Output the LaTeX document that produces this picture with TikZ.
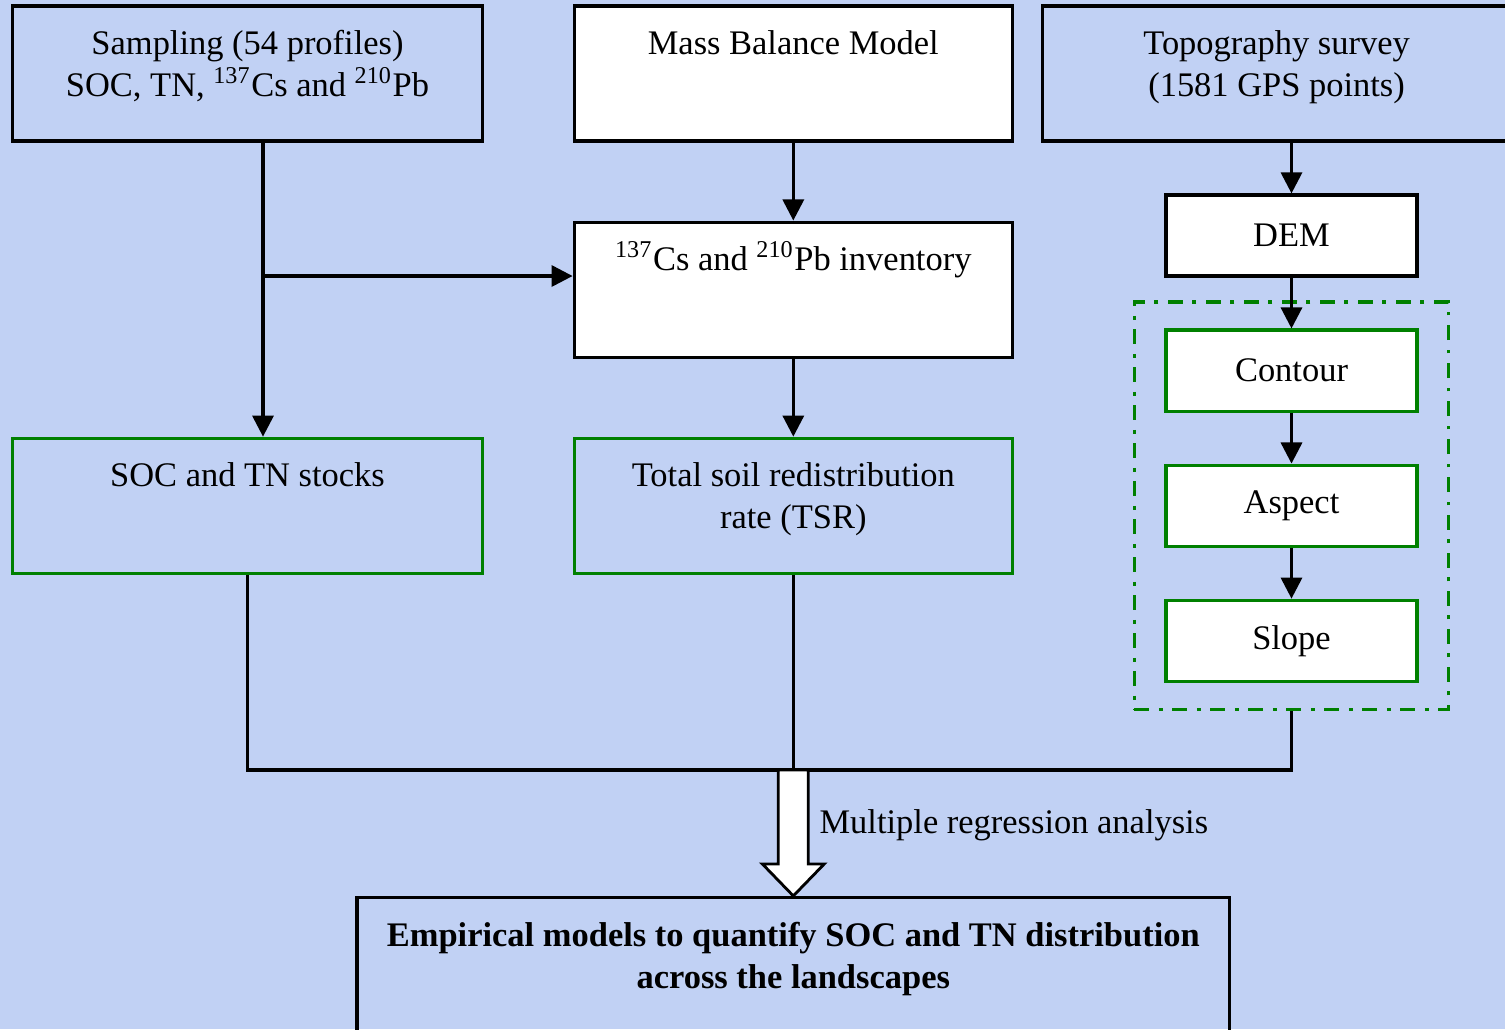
\documentclass[tikz,border=0pt]{standalone}
\usepackage{fontspec}
\setmainfont{Liberation Serif}
\usepackage{xcolor}
\usetikzlibrary{arrows.meta,positioning,fit,calc}
\definecolor{bgblue}{RGB}{193,209,244}
\definecolor{boxgreen}{RGB}{0,128,0}

\tikzset{
  box/.style={draw, minimum width=4.38cm, inner sep=0pt, align=center},
  onerow/.style={text height=0.485cm, text depth=0.865cm},
  tworow/.style={text height=0.905cm, text depth=0.445cm},
  small/.style={draw, fill=white, minimum width=2.51cm, minimum height=0.81cm, inner sep=0pt},
  group/.style={draw=boxgreen, dash pattern=on 4.3pt off 2.7pt on 1.1pt off 2.7pt, inner xsep=0.3cm, inner ysep=0.265cm}
}

\begin{document}
\fontsize{9.8}{11.9}\selectfont
\begin{tikzpicture}[->, >={Triangle[length=6pt,width=6pt]}, x=0.01cm, y=-0.01cm, line width=0.9pt, node distance=2.16cm]
\useasboundingbox (0,0) rectangle (1505,1029);
\fill[-, bgblue] (0,0) rectangle (1505,1029);

% top row
\node [box, tworow, minimum width=4.69cm] (sampling) at (247.5,73.5) {Sampling (54 profiles)\\SOC, TN, \textsuperscript{137}Cs and \textsuperscript{210}Pb};
\node [box, onerow, fill=white] (mass) [right of=sampling, node distance=5.455cm] {Mass Balance Model};
\node [box, tworow, minimum width=4.68cm] (topo) [right of=mass, node distance=4.83cm] {Topography survey\\(1581 GPS points)};

% middle column
\node [box, onerow, fill=white] (inventory) [below of=mass] {\textsuperscript{137}Cs and \textsuperscript{210}Pb inventory};
\node [box, tworow, draw=boxgreen] (tsr) [below of=inventory] {Total soil redistribution\\rate (TSR)};
\node [box, onerow, draw=boxgreen, minimum width=4.69cm] (stocks) [left of=tsr, node distance=5.455cm] {SOC and TN stocks};
\node [box, tworow, font=\bfseries, minimum width=8.72cm] (final) [below of=tsr, node distance=4.59cm] {Empirical models to quantify SOC and TN distribution\\across the landscapes};

% terrain column
\node [small] (dem) at (1291.5,235.5) {DEM};
\node [small, draw=boxgreen] (contour) [below of=dem, node distance=1.35cm] {Contour};
\node [small, draw=boxgreen] (aspect) [below of=contour, node distance=1.35cm] {Aspect};
\node [small, draw=boxgreen] (slope) [below of=aspect, node distance=1.35cm] {Slope};
\node [group, fit=(contour)(slope)] (grp) {};

\coordinate (split) at (263,276);
\coordinate (join) at (tsr.south |- 0,770);

\draw [-] (sampling.south -| split) -- (split);
\draw (split) -- (stocks.north -| split);
\draw (split) -- (split -| inventory.west);
\draw (mass) -- (inventory);
\draw (inventory) -- (tsr);
\draw (topo.south -| dem.north) -- (dem);
\draw (dem) -- (contour);
\draw (contour) -- (aspect);
\draw (aspect) -- (slope);

\draw [-] (stocks.south) |- (join) -| (grp.south);
\draw [-] (tsr.south) -- (join);

% hollow arrow
\draw [-, fill=white, line width=0.8pt] ($(join)+(-15,0)$) -- ($(join)+(15,0)$) -- ($(final.north)+(15,-32)$) -- ($(final.north)+(31,-32)$) -- (final.north) -- ($(final.north)+(-31,-32)$) -- ($(final.north)+(-15,-32)$) -- cycle;
\node [anchor=west, inner sep=0pt] (mra) at (818,825) {Multiple regression analysis};

\end{tikzpicture}
\end{document}
